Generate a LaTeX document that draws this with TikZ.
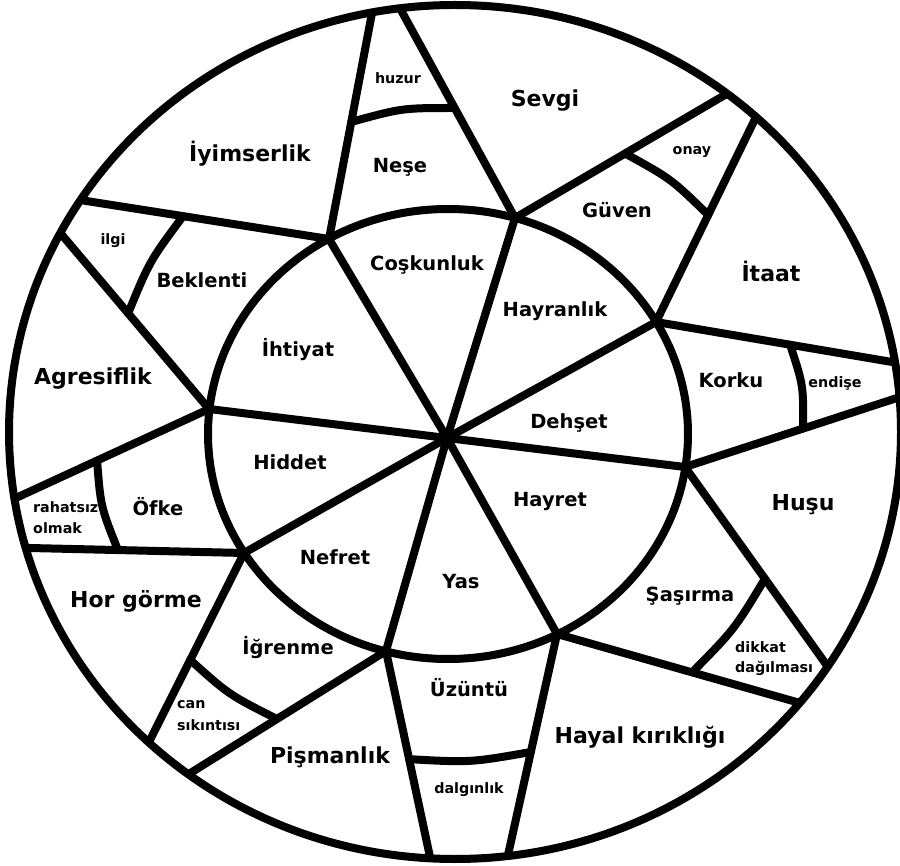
\documentclass[tikz,border=0pt]{standalone}
\usepackage{fontspec}
\setmainfont{DejaVu Sans}
\usetikzlibrary{calc}
\begin{document}
\begin{tikzpicture}[x=1pt,y=-1pt,
  wl/.style={line width=8pt, line cap=round, line join=round},
  big/.style={font=\fontsize{22}{24}\selectfont\bfseries, anchor=base, inner sep=0pt},
  mid/.style={font=\fontsize{19.5}{21}\selectfont\bfseries, anchor=base, inner sep=0pt},
  sml/.style={font=\fontsize{14.3}{17}\selectfont\bfseries, anchor=base, inner sep=0pt},
  smlw/.style={sml, anchor=base west},
]
\fill[white] (0,0) rectangle (900,866);
\useasboundingbox (0,0) rectangle (900,866);

% centre and inner vertices
\coordinate (O) at (447,438);
\coordinate (V1) at (329,239);
\coordinate (V2) at (515,218);
\coordinate (V3) at (656,322);
\coordinate (V4) at (685,467);
\coordinate (V5) at (557,634);
\coordinate (V6) at (386,651);
\coordinate (V7) at (244,553);
\coordinate (V8) at (209,409);

% outer end points
\coordinate (A) at (372,13);
\coordinate (B) at (80,200);
\coordinate (C) at (402,12);
\coordinate (D) at (730,92);
\coordinate (E) at (757,115);
\coordinate (F) at (898,363);
\coordinate (G) at (900,397);
\coordinate (H) at (828,667);
\coordinate (I) at (800,703);
\coordinate (J) at (508,855);
\coordinate (K) at (430,857);
\coordinate (L) at (192,772);
\coordinate (M) at (150,740);
\coordinate (N) at (30,548);
\coordinate (P) at (18,497);
\coordinate (Q) at (62,235);

% spokes
\foreach \v in {V1,V2,V3,V4,V5,V6,V7,V8}
  \draw[wl] (O) -- (\v);

% inner circle
\draw[wl] (448,434) ellipse [x radius=240, y radius=225];

% outer lines, clipped to the outer circle
\begin{scope}
  \clip (455,432) ellipse [x radius=446, y radius=427];
  \foreach \v/\p in {V1/A,V1/B,V2/C,V2/D,V3/E,V3/F,V4/G,V4/H,V5/I,V5/J,V6/K,V6/L,V7/M,V7/N,V8/P,V8/Q}
    \draw[wl, line cap=butt] (\v) -- ($(\v)!1.12!(\p)$);
\end{scope}

% dividers
\coordinate (d1a) at ($(V1)!0.518!(A)$);
\coordinate (d1b) at ($(V2)!0.534!(C)$);
\coordinate (d2a) at ($(V2)!0.512!(D)$);
\coordinate (d2b) at ($(V3)!0.517!(E)$);
\coordinate (d3a) at ($(V3)!0.554!(F)$);
\coordinate (d3b) at ($(V4)!0.549!(G)$);
\coordinate (d4a) at ($(V4)!0.559!(H)$);
\coordinate (d4b) at ($(V5)!0.556!(I)$);
\coordinate (d5a) at ($(V5)!0.534!(J)$);
\coordinate (d5b) at ($(V6)!0.525!(K)$);
\coordinate (d6a) at ($(V6)!0.562!(L)$);
\coordinate (d6b) at ($(V7)!0.572!(M)$);
\coordinate (d7a) at ($(V7)!0.589!(N)$);
\coordinate (d7b) at ($(V8)!0.586!(P)$);
\coordinate (d8a) at ($(V8)!0.55!(Q)$);
\coordinate (d8b) at ($(V1)!0.586!(B)$);
\foreach \a/\b in {d1a/d1b,d2a/d2b,d3a/d3b,d4a/d4b,d5a/d5b,d6a/d6b,d7a/d7b,d8a/d8b}
  \draw[wl] (\a) .. controls ($ ($(\a)!0.5!(\b)$) !-7pt! (O) $) .. (\b);

% outer circle
\draw[wl] (455,432) ellipse [x radius=446, y radius=427];

% labels: combinations (outer ring)
\node[big] (tSevgi) at (545,107) {Sevgi};
\node[big] (tItaat) at (771,282) {İtaat};
\node[big] (tHusu) at (803,511) {Huşu};
\node[big] (tHayal) at (640,743) {Hayal kırıklığı};
\node[big] (tPisman) at (330,763) {Pişmanlık};
\node[big] (tHor) at (136,607) {Hor görme};
\node[big] (tAgres) at (93,385) {Agresiflik};
\node[big] (tIyim) at (250,162) {İyimserlik};

% labels: primary and middle ring
\node[mid] (tNese) at (400,173) {Neşe};
\node[mid] (tCosk) at (427,271) {Coşkunluk};
\node[mid] (tGuven) at (617,218) {Güven};
\node[mid] (tHayran) at (555,317) {Hayranlık};
\node[mid] (tKorku) at (731,388) {Korku};
\node[mid] (tDehset) at (569,429) {Dehşet};
\node[mid] (tHayret) at (550,507) {Hayret};
\node[mid] (tSasirma) at (690,601) {Şaşırma};
\node[mid] (tYas) at (461,588) {Yas};
\node[mid] (tUzuntu) at (469,696) {Üzüntü};
\node[mid] (tNefret) at (335,564) {Nefret};
\node[mid] (tIgrenme) at (288,654) {İğrenme};
\node[mid] (tHiddet) at (290,470) {Hiddet};
\node[mid] (tOfke) at (158,515) {Öfke};
\node[mid] (tIhtiyat) at (298,357) {İhtiyat};
\node[mid] (tBeklenti) at (202,288) {Beklenti};

% labels: mild outer parts
\node[sml] (thuzur) at (398,84) {huzur};
\node[sml] (tonay) at (692,155) {onay};
\node[sml] (tendise) at (835,388) {endişe};
\node[sml] (tdalgin) at (469,793) {dalgınlık};
\node[sml] (tilgi) at (113,245) {ilgi};
\node[smlw] (tdikkat) at (735,652) {dikkat};
\node[smlw] (tdagil) at (735,672) {dağılması};
\node[smlw] (tcan) at (177,708) {can};
\node[smlw] (tsikinti) at (177,730) {sıkıntısı};
\node[smlw] (trahat) at (33,512) {rahatsız};
\node[smlw] (tolmak) at (33,533) {olmak};
\end{tikzpicture}
\end{document}
